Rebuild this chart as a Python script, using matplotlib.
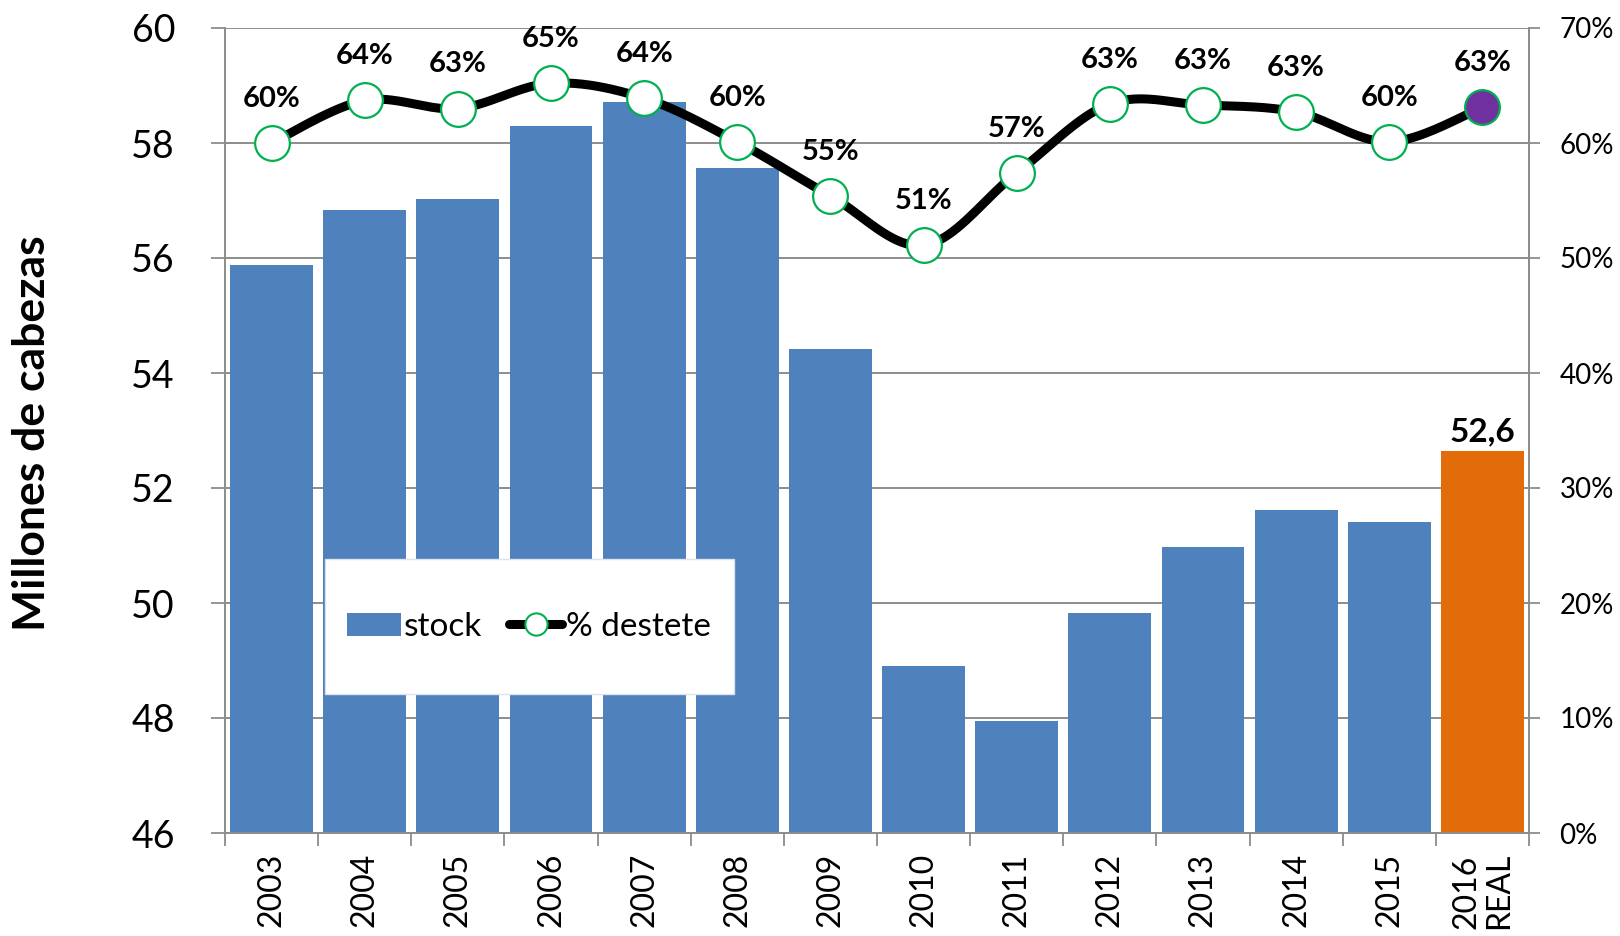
import matplotlib
matplotlib.use('Agg')
import matplotlib.pyplot as plt
import numpy as np
from matplotlib.patches import Rectangle, Patch
from matplotlib.lines import Line2D

plt.rcParams['font.family'] = ['Lato', 'DejaVu Sans']

categories = ['2003', '2004', '2005', '2006', '2007', '2008', '2009', '2010',
              '2011', '2012', '2013', '2014', '2015', '2016\nREAL']
stock = [55.87, 56.84, 57.03, 58.29, 58.72, 57.57, 54.41, 48.91,
         47.94, 49.83, 50.98, 51.62, 51.41, 52.65]
destete = [60.0, 63.7, 63.0, 65.2, 63.9, 60.1, 55.4, 51.1,
           57.4, 63.4, 63.3, 62.7, 60.1, 63.1]
stock_label = '52,6'
left_ticks = [46, 48, 50, 52, 54, 56, 58, 60]
right_ticks = [0, 10, 20, 30, 40, 50, 60, 70]

BLUE = '#4F81BD'
ORANGE = '#E36C0A'
GRID = '#8C8C8C'
GREEN = '#00B050'
PURPLE = '#7030A0'

W, H = 1620, 936
fig = plt.figure(figsize=(W / 100, H / 100), dpi=100)
ax = fig.add_axes([225 / W, 1 - 833 / H, (1529 - 225) / W, (833 - 28) / H])

x = np.arange(len(categories))
colors = [BLUE] * (len(categories) - 1) + [ORANGE]
ax.bar(x, [s - 46 for s in stock], bottom=46, width=0.89, color=colors,
       edgecolor='none', zorder=2)
ax.set_xlim(-0.5, len(categories) - 0.5)
ax.set_ylim(46, 60)
ax.set_yticks(left_ticks)
ax.set_yticklabels([str(t) for t in left_ticks], fontsize=27)
ax.yaxis.grid(True, color=GRID, lw=1.4)
ax.set_axisbelow(True)
ax.tick_params(axis='y', direction='out', length=10, width=1.3, color=GRID, pad=26)

ax.set_xticks(x)
ax.set_xticklabels(categories, rotation=90, fontsize=23, multialignment='left',
                   linespacing=1.1)
ax.tick_params(axis='x', which='major', length=0, pad=14)
ax.set_xticks(np.arange(-0.5, len(categories)), minor=True)
ax.tick_params(axis='x', which='minor', direction='out', length=9, width=1.3, color=GRID)

for s in ['left', 'bottom', 'right']:
    ax.spines[s].set_color(GRID)
    ax.spines[s].set_linewidth(1.4)
ax.spines['top'].set_visible(False)

ax.annotate(stock_label, (x[-1], stock[-1]), xytext=(0, 7),
            textcoords='offset points', ha='center', va='baseline',
            fontsize=24, fontweight='bold', zorder=5)

ax2 = ax.twinx()
ax2.set_ylim(0, 70)
ax2.set_yticks(right_ticks)
ax2.set_yticklabels([f'{t}%' for t in right_ticks], fontsize=20)
ax2.tick_params(axis='y', direction='out', length=8, width=1.3, color=GRID, pad=14)
for s in ['left', 'bottom', 'top']:
    ax2.spines[s].set_visible(False)
ax2.spines['right'].set_color(GRID)
ax2.spines['right'].set_linewidth(1.4)


def smooth(xs, ys, n=40):
    p = np.column_stack([xs, ys]).astype(float)
    p = np.vstack([p[0], p, p[-1]])
    out = []
    for i in range(1, len(p) - 2):
        p0, p1, p2, p3 = p[i - 1], p[i], p[i + 1], p[i + 2]
        c1 = p1 + (p2 - p0) / 6
        c2 = p2 - (p3 - p1) / 6
        t = np.linspace(0, 1, n)[:, None]
        seg = ((1 - t) ** 3) * p1 + 3 * ((1 - t) ** 2) * t * c1 + 3 * (1 - t) * t ** 2 * c2 + t ** 3 * p2
        out.append(seg if i == 1 else seg[1:])
    out = np.vstack(out)
    return out[:, 0], out[:, 1]


sx, sy = smooth(x, destete)
ax2.plot(sx, sy, color='black', lw=6.5, solid_capstyle='round', zorder=3)
face = ['white'] * (len(destete) - 1) + [PURPLE]
for i, v in enumerate(destete):
    ax2.plot([x[i]], [v], marker='o', markersize=25, markerfacecolor=face[i],
             markeredgecolor=GREEN, markeredgewidth=1.6, linestyle='none', zorder=4)
    ax2.annotate(f'{v:.0f}%', (x[i], v), xytext=(0, 26), textcoords='offset points',
                 ha='center', va='baseline', fontsize=21, fontweight='bold', zorder=5)

# legend box
rect = Rectangle((325 / W, 1 - 694 / H), 409 / W, 135 / H, transform=fig.transFigure,
                 facecolor='white', edgecolor='#DCE3EE', lw=1, zorder=10)
ax2.add_patch(rect)
handles = [Patch(facecolor=BLUE, edgecolor='none'),
           Line2D([0], [0], color='black', lw=6.5, solid_capstyle='round', marker='o',
                  markersize=16, markerfacecolor='white', markeredgecolor=GREEN,
                  markeredgewidth=1.5)]
leg = ax2.legend(handles, ['stock', '% destete'], loc='center',
                 bbox_to_anchor=(529 / W, 1 - 627 / H), bbox_transform=fig.transFigure,
                 ncol=2, frameon=False, fontsize=24, handlelength=1.6, handletextpad=0.1,
                 columnspacing=0.8, handleheight=0.7)
leg.set_zorder(11)

fig.text(32 / W, 1 - 433 / H, 'Millones de cabezas', rotation=90, ha='center', va='center',
         fontsize=32, fontweight='bold')

fig.savefig('out.png', dpi=100)
